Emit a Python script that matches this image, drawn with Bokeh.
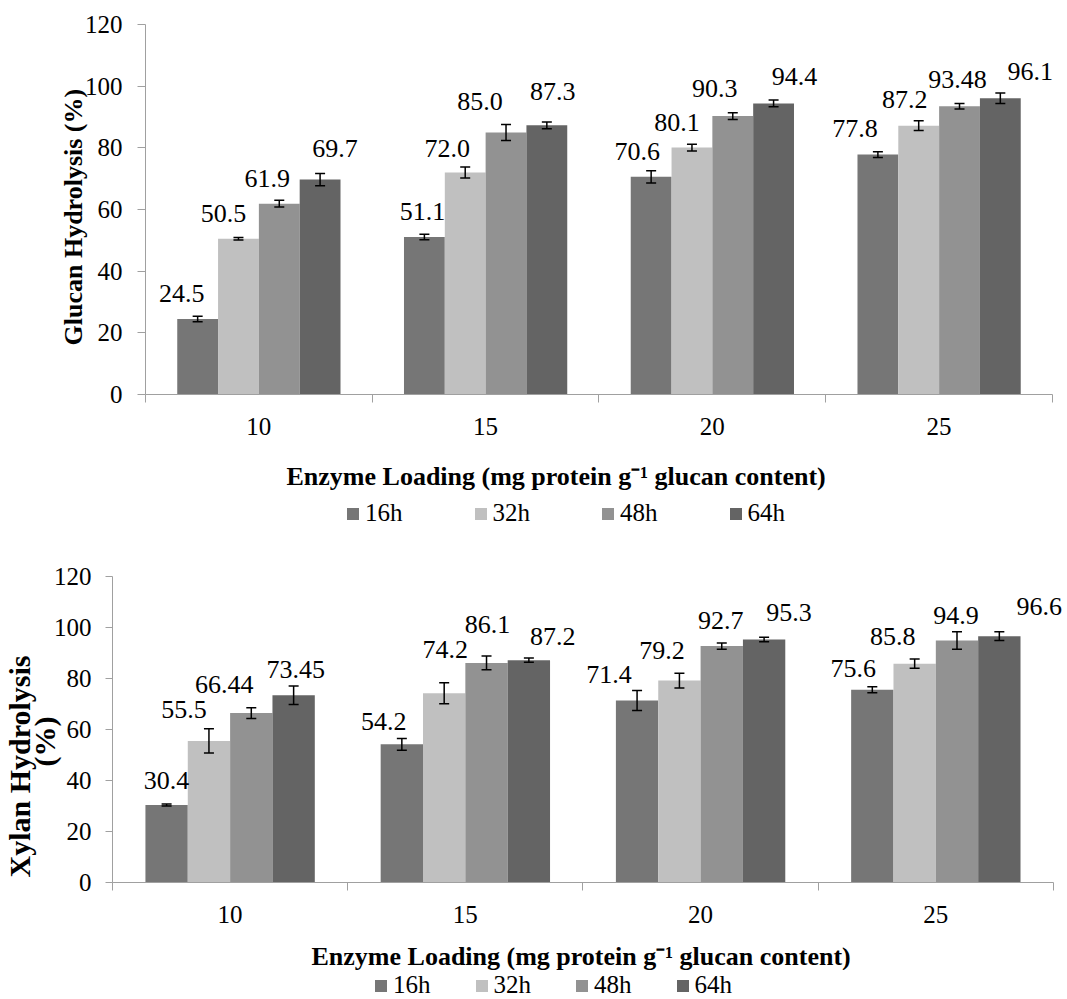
import numpy as np
from bokeh.plotting import figure
from bokeh.models import (ColumnDataSource, Range1d, FixedTicker, Whisker, TeeHead,
                          LabelSet, Legend, LegendItem, Title)
from bokeh.layouts import column
from bokeh.core.properties import value
from bokeh.embed import file_html
from bokeh.resources import INLINE

# ---------------- data ----------------
loadings = ["10", "15", "20", "25"]
series = ["16h", "32h", "48h", "64h"]

glucan_16h = [24.5, 51.1, 70.6, 77.8]
glucan_32h = [50.5, 72.0, 80.1, 87.2]
glucan_48h = [61.9, 85.0, 90.3, 93.48]
glucan_64h = [69.7, 87.3, 94.4, 96.1]
glucan_err_16h = [0.9, 0.9, 2.0, 0.9]
glucan_err_32h = [0.4, 1.8, 1.1, 1.6]
glucan_err_48h = [1.1, 2.6, 1.1, 0.9]
glucan_err_64h = [2.0, 1.1, 1.1, 1.7]
glucan_text_16h = ["24.5", "51.1", "70.6", "77.8"]
glucan_text_32h = ["50.5", "72.0", "80.1", "87.2"]
glucan_text_48h = ["61.9", "85.0", "90.3", "93.48"]
glucan_text_64h = ["69.7", "87.3", "94.4", "96.1"]

xylan_16h = [30.4, 54.2, 71.4, 75.6]
xylan_32h = [55.5, 74.2, 79.2, 85.8]
xylan_48h = [66.44, 86.1, 92.7, 94.9]
xylan_64h = [73.45, 87.2, 95.3, 96.6]
xylan_err_16h = [0.4, 2.3, 3.9, 1.2]
xylan_err_32h = [4.75, 4.1, 2.9, 1.8]
xylan_err_48h = [2.1, 2.7, 1.2, 3.4]
xylan_err_64h = [3.6, 0.8, 0.85, 1.7]
xylan_text_16h = ["30.4", "54.2", "71.4", "75.6"]
xylan_text_32h = ["55.5", "74.2", "79.2", "85.8"]
xylan_text_48h = ["66.44", "86.1", "92.7", "94.9"]
xylan_text_64h = ["73.45", "87.2", "95.3", "96.6"]

y_ticks = [0, 20, 40, 60, 80, 100, 120]
x_title = "Enzyme Loading (mg protein g\u207b\u00b9 glucan content)"

# ---------------- label placement (screen px nudges, style only) ----------------
glucan_dx = [[-16, -2, -14, -23], [-15, -18, -15, -14], [-12, -26, -18, -2], [15, 6, 21, 30]]
glucan_gap = [[17, 16.5, 17, 17.4], [16.6, 16, 17, 18], [16.5, 22, 19, 18.5], [22.4, 25, 18, 17.7]]
xylan_dx = [[0, -18, -28, -19], [-25, 1, -17.5, -22], [-27, 1, -1, -1], [2, 24, 25, 40]]
xylan_gap = [[16, 14.4, 17, 13], [22.7, 35, 22, 18.5], [19.7, 29.5, 17.5, 17], [16.8, 15, 18, 21]]

FILLS = ["#767676", "#C0C0C0", "#929292", "#646464"]
AXIS_GRAY = "#A0A0A0"
FONT = "Liberation Serif"
BAR_W = 0.18
WIDTH = 1066


def make_panel(vals, errs, texts, dxs, gaps, height, borders, x_end, tick_out, ytick_standoff,
               xlabel_pad, xtitle_offset, ytitles):
    left, right, top, bottom = borders
    # the range runs a little past the last category so that edge labels are not clipped;
    # the axis line itself is bounded to the four categories
    p = figure(width=WIDTH, height=height, x_range=Range1d(-0.5, x_end), y_range=Range1d(0, 120),
               output_backend="svg", toolbar_location=None,
               min_border_left=left, min_border_right=right,
               min_border_top=top, min_border_bottom=bottom)
    p.frame_align = False
    p.xgrid.visible = False
    p.ygrid.visible = False
    p.outline_line_color = None
    p.background_fill_color = "white"

    yax = p.yaxis[0]
    yax.ticker = FixedTicker(ticks=y_ticks)
    yax.axis_line_color = AXIS_GRAY
    yax.major_tick_line_color = AXIS_GRAY
    yax.major_tick_out = tick_out
    yax.major_tick_in = 0
    yax.minor_tick_line_color = None
    yax.major_label_text_font = FONT
    yax.major_label_text_font_size = "25px"
    yax.major_label_text_color = "black"
    yax.major_label_standoff = ytick_standoff

    xax = p.xaxis[0]
    xax.bounds = (-0.5, len(loadings) - 0.5)
    xax.ticker = FixedTicker(ticks=list(range(len(loadings))),
                             minor_ticks=[i - 0.5 for i in range(len(loadings) + 1)])
    xax.major_label_overrides = {i: lab for i, lab in enumerate(loadings)}
    xax.axis_line_color = AXIS_GRAY
    xax.major_tick_line_color = None
    xax.major_tick_out = 0
    xax.major_tick_in = 0
    xax.minor_tick_line_color = AXIS_GRAY
    xax.minor_tick_out = 8
    xax.minor_tick_in = 0
    xax.major_label_text_font = FONT
    xax.major_label_text_font_size = "25px"
    xax.major_label_text_color = "black"
    xax.major_label_standoff = 15
    # invisible spacer label: pushes the title panel down without moving tick labels
    xax.axis_label = " "
    xax.axis_label_text_font_size = "10px"
    xax.axis_label_standoff = xlabel_pad

    offsets = [(j - 1.5) * BAR_W for j in range(len(series))]
    for j, s in enumerate(series):
        xs = [i + offsets[j] for i in range(len(loadings))]
        src = ColumnDataSource(dict(
            x=xs, top=vals[j],
            upper=[v + e for v, e in zip(vals[j], errs[j])],
            lower=[v - e for v, e in zip(vals[j], errs[j])],
            text=texts[j], dx=dxs[j], dy=gaps[j]))
        p.vbar(x="x", top="top", width=BAR_W, source=src,
               fill_color=FILLS[j], line_color=None)
        w = Whisker(source=src, base="x", upper="upper", lower="lower", dimension="height",
                    line_color="black", line_width=1.5, level="annotation",
                    upper_head=TeeHead(size=10, line_color="black", line_width=1.5),
                    lower_head=TeeHead(size=10, line_color="black", line_width=1.5))
        p.add_layout(w)
        p.add_layout(LabelSet(source=src, x="x", y="top", text="text",
                              x_offset="dx", y_offset="dy",
                              text_font=value(FONT), text_font_size=value("26px"),
                              text_align="center", text_baseline="alphabetic",
                              text_color="black"))

    p.add_layout(Title(text=x_title, align="left", offset=xtitle_offset, standoff=0,
                       vertical_align="bottom", text_font=FONT, text_font_size="26px",
                       text_font_style="bold", text_color="black"), "below")
    for (txt, style, size, off, stand) in ytitles:
        p.add_layout(Title(text=txt, align="left", offset=off, standoff=stand,
                           vertical_align="bottom", text_font=FONT, text_font_size=size,
                           text_font_style=style, text_color="black"), "left")
    return p


def make_legend(height, loc, spacing):
    lf = figure(width=WIDTH, height=height, x_range=Range1d(0, 1), y_range=Range1d(0, 1),
                output_backend="svg", toolbar_location=None, min_border=0,
                x_axis_type=None, y_axis_type=None)
    lf.frame_align = False
    lf.outline_line_color = None
    lf.grid.visible = False
    items = []
    for j, s in enumerate(series):
        # key swatch only: its bar lies outside the visible range
        r = lf.vbar(x=[-10], top=[0], width=0.1, fill_color=FILLS[j], line_color=None)
        items.append(LegendItem(label=s, renderers=[r]))
    legend = Legend(items=items, orientation="horizontal", location=loc,
                    glyph_width=15, glyph_height=15, label_standoff=5,
                    spacing=spacing, padding=0, margin=0,
                    border_line_color=None, background_fill_alpha=0,
                    label_text_font="'Liberation Serif', serif", label_text_font_size="25px",
                    label_text_font_style="normal",
                    label_text_color="black", label_height=15)
    lf.add_layout(legend)
    return lf


p1 = make_panel(
    [glucan_16h, glucan_32h, glucan_48h, glucan_64h],
    [glucan_err_16h, glucan_err_32h, glucan_err_48h, glucan_err_64h],
    [glucan_text_16h, glucan_text_32h, glucan_text_48h, glucan_text_64h],
    glucan_dx, glucan_gap,
    height=495, borders=(145, 2, 24, 101), x_end=3.553, tick_out=8, ytick_standoff=15,
    xlabel_pad=8, xtitle_offset=141,
    ytitles=[("Glucan  Hydrolysis (%)", "bold", "26px", 49, -12)])
l1 = make_legend(50, (345, 18), 70)

p2 = make_panel(
    [xylan_16h, xylan_32h, xylan_48h, xylan_64h],
    [xylan_err_16h, xylan_err_32h, xylan_err_48h, xylan_err_64h],
    [xylan_text_16h, xylan_text_32h, xylan_text_48h, xylan_text_64h],
    xylan_dx, xylan_gap,
    height=425, borders=(110, 2, 31, 87), x_end=3.547, tick_out=7, ytick_standoff=14,
    xlabel_pad=0, xtitle_offset=199,
    ytitles=[("(%)", "bold", "30px", 116, -20),
             ("Xylan  Hydrolysis", "bold", "30px", 5, 0)])
l2 = make_legend(29, (373, 0), 43)

layout = column(p1, l1, p2, l2, spacing=0)
open("out.html", "w").write(file_html(layout, INLINE))
